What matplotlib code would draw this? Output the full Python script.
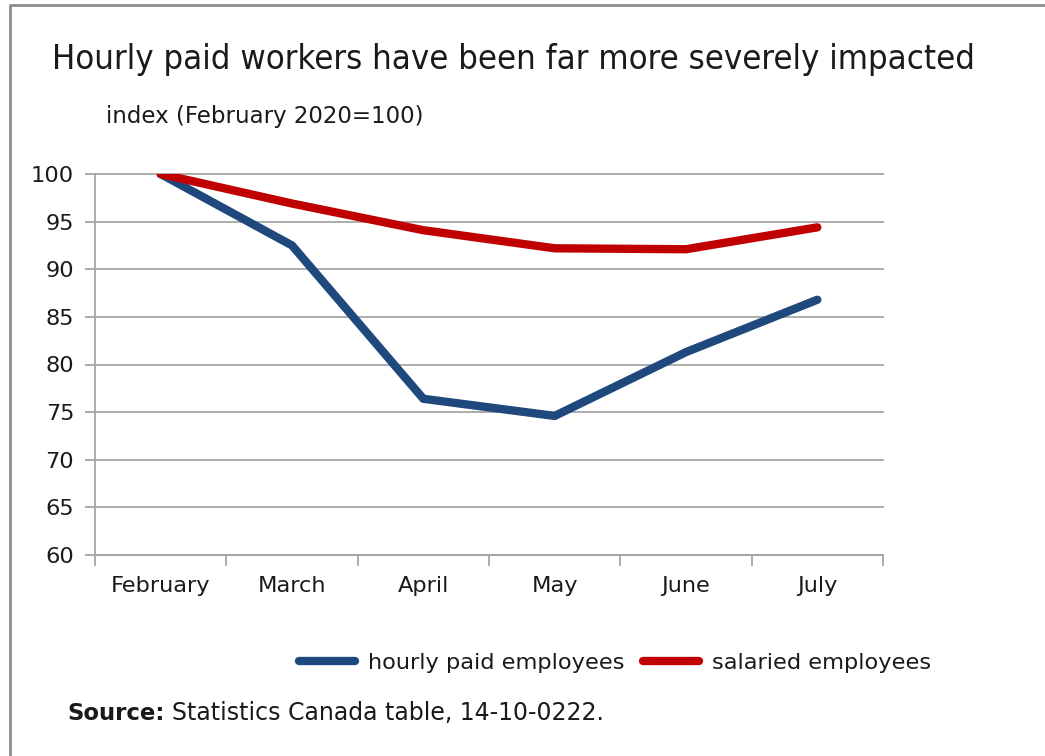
import matplotlib
matplotlib.use("Agg")
import matplotlib.pyplot as plt
from matplotlib.lines import Line2D

months = ["February", "March", "April", "May", "June", "July"]
hourly = [100.0, 92.5, 76.4, 74.6, 81.3, 86.8]
salaried = [100.0, 96.9, 94.1, 92.2, 92.1, 94.4]
y_ticks = [60, 65, 70, 75, 80, 85, 90, 95, 100]

BLUE = "#1F497D"
RED = "#C00000"
GRID = "#A6A6A6"
TEXT = "#1a1a1a"

plt.rcParams["font.family"] = ["DejaVu Sans"]

W, H = 1045, 756
fig = plt.figure(figsize=(W / 100, H / 100), dpi=100)
fig.patch.set_facecolor("white")

# outer frame of the chart object (left and top edges)
fx, fy = 10 / W, 1 - 5 / H
fig.add_artist(Line2D([fx, fx, 1.0], [0.0, fy, fy], transform=fig.transFigure,
                      color="#8c8c8c", linewidth=2.0))

left, right = 95 / W, 883 / W
top, bottom = 1 - 174 / H, 1 - 555 / H
ax = fig.add_axes([left, bottom, right - left, top - bottom])

x = list(range(len(months)))
ax.plot(x, hourly, color=BLUE, linewidth=6.0, solid_capstyle="round",
        solid_joinstyle="round", label="hourly paid employees", zorder=3)
ax.plot(x, salaried, color=RED, linewidth=6.0, solid_capstyle="round",
        solid_joinstyle="round", label="salaried employees", zorder=4)

ax.set_xlim(-0.5, len(months) - 0.5)
ax.set_ylim(60, 100)
ax.set_yticks(y_ticks)
ax.set_yticklabels([str(v) for v in y_ticks])
ax.yaxis.grid(True, color=GRID, linewidth=1.3)
for g in ax.get_ygridlines():
    g.set_clip_on(False)
ax.set_axisbelow(True)

# category labels centred, tick marks on category boundaries
ax.set_xticks(x)
ax.set_xticklabels(months)
ax.tick_params(axis="x", which="major", length=0, pad=15, labelsize=16.2,
               labelcolor=TEXT)
ax.set_xticks([i - 0.5 for i in range(len(months) + 1)], minor=True)
ax.tick_params(axis="x", which="minor", length=8, width=1.3, color=GRID)
ax.tick_params(axis="y", length=7, width=1.3, color=GRID, labelsize=16.2,
               labelcolor=TEXT, pad=8)

for s in ("top", "right"):
    ax.spines[s].set_visible(False)
for s in ("left", "bottom"):
    ax.spines[s].set_color(GRID)
    ax.spines[s].set_linewidth(1.3)

fig.text(52 / W, 1 - 60 / H, "Hourly paid workers have been far more severely impacted",
         fontsize=24.8, fontstretch="condensed", color=TEXT, va="center", ha="left")
fig.text(106 / W, 1 - 116 / H, "index (February 2020=100)",
         fontsize=16.5, color=TEXT, va="center", ha="left")

leg = fig.legend(loc="center", bbox_to_anchor=(615 / W, 1 - 663 / H), ncol=2,
                 frameon=False, fontsize=16.2, handlelength=2.5,
                 columnspacing=0.8, handletextpad=0.58)
for t in leg.get_texts():
    t.set_color(TEXT)

src = fig.text(67 / W, 1 - 713 / H, "Source:", fontsize=16.4, fontweight="bold",
               color=TEXT, va="center", ha="left")
fig.canvas.draw()
bb = src.get_window_extent()
fig.text((bb.x1 + 8) / W, 1 - 713 / H, "Statistics Canada table, 14-10-0222.",
         fontsize=17.0, color=TEXT, va="center", ha="left")

fig.savefig("out.png", dpi=100, facecolor="white")
